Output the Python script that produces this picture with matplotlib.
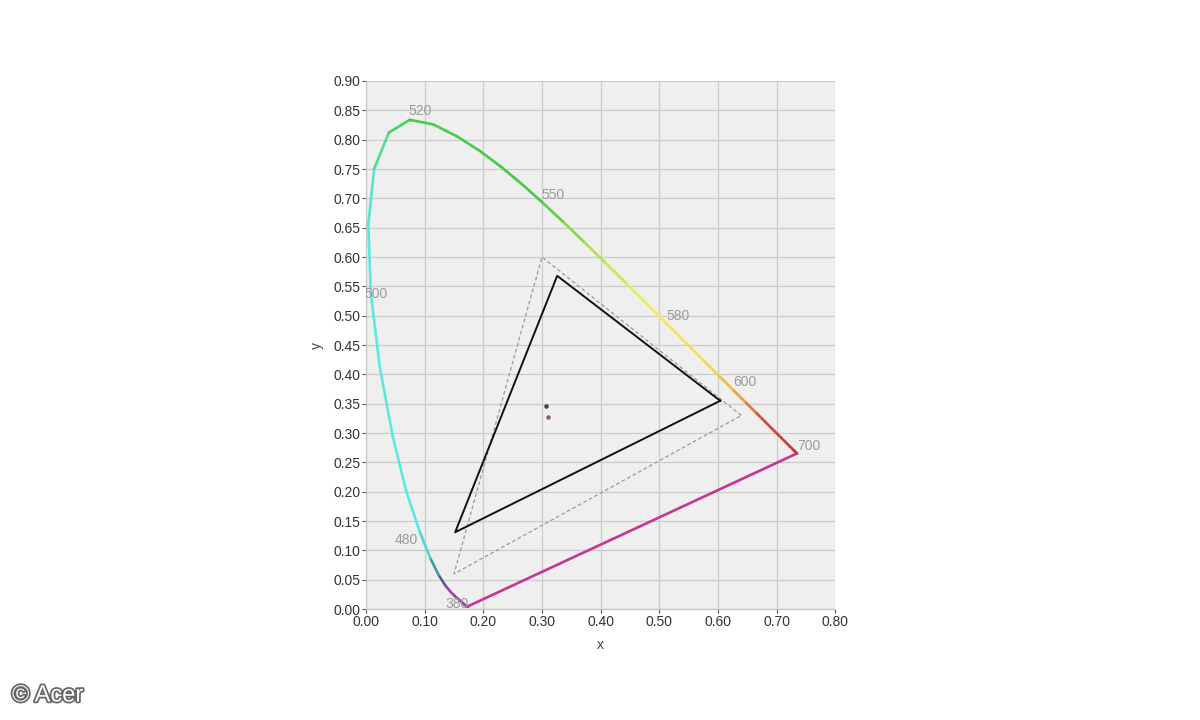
import numpy as np
import matplotlib
matplotlib.use("Agg")
import matplotlib.pyplot as plt
import matplotlib.patheffects as pe
from matplotlib.collections import LineCollection
from matplotlib.colors import LinearSegmentedColormap

plt.rcParams['font.family'] = ['Liberation Sans', 'DejaVu Sans']

# CIE 1931 spectral locus, 5 nm steps
wavelengths = [380, 385, 390, 395, 400, 405, 410, 415, 420, 425, 430, 435, 440, 445,
               450, 455, 460, 465, 470, 475, 480, 485, 490, 495, 500, 505, 510, 515,
               520, 525, 530, 535, 540, 545, 550, 555, 560, 565, 570, 575, 580, 585,
               590, 595, 600, 605, 610, 615, 620, 625, 630, 635, 640, 645, 650, 655,
               660, 665, 670, 675, 680, 685, 690, 695, 700]
locus_x = [0.1741, 0.1740, 0.1738, 0.1736, 0.1733, 0.1730, 0.1726, 0.1721, 0.1714, 0.1703,
           0.1689, 0.1669, 0.1644, 0.1611, 0.1566, 0.1510, 0.1440, 0.1355, 0.1241, 0.1096,
           0.0913, 0.0687, 0.0454, 0.0235, 0.0082, 0.0039, 0.0139, 0.0389, 0.0743, 0.1142,
           0.1547, 0.1929, 0.2296, 0.2658, 0.3016, 0.3373, 0.3731, 0.4087, 0.4441, 0.4788,
           0.5125, 0.5448, 0.5752, 0.6029, 0.6270, 0.6482, 0.6658, 0.6801, 0.6915, 0.7006,
           0.7079, 0.7140, 0.7190, 0.7230, 0.7260, 0.7283, 0.7300, 0.7311, 0.7320, 0.7327,
           0.7334, 0.7340, 0.7344, 0.7346, 0.7347]
locus_y = [0.0050, 0.0050, 0.0049, 0.0049, 0.0048, 0.0048, 0.0048, 0.0048, 0.0051, 0.0058,
           0.0069, 0.0086, 0.0109, 0.0138, 0.0177, 0.0227, 0.0297, 0.0399, 0.0578, 0.0868,
           0.1327, 0.2007, 0.2950, 0.4127, 0.5384, 0.6548, 0.7502, 0.8120, 0.8338, 0.8262,
           0.8059, 0.7816, 0.7543, 0.7243, 0.6923, 0.6589, 0.6245, 0.5896, 0.5547, 0.5202,
           0.4866, 0.4544, 0.4242, 0.3965, 0.3725, 0.3514, 0.3340, 0.3197, 0.3083, 0.2993,
           0.2920, 0.2859, 0.2809, 0.2770, 0.2740, 0.2717, 0.2700, 0.2689, 0.2680, 0.2673,
           0.2666, 0.2660, 0.2656, 0.2654, 0.2653]

label_nm = ["520", "550", "580", "600", "700", "500", "480", "380"]
label_x = [0.072, 0.299, 0.512, 0.626, 0.735, -0.003, 0.049, 0.135]
label_y = [0.849, 0.706, 0.499, 0.387, 0.278, 0.537, 0.118, 0.009]

# measured gamut and sRGB reference
gamut_x = [0.604, 0.326, 0.152]
gamut_y = [0.355, 0.568, 0.131]
srgb_x = [0.64, 0.30, 0.15]
srgb_y = [0.33, 0.60, 0.06]

white_x = [0.307, 0.310]
white_y = [0.346, 0.328]

fig = plt.figure(figsize=(12, 7.2), dpi=100)
ax = fig.add_axes([0.305, 0.154, 0.391, 0.7335])
ax.set_facecolor('#efefef')

# colour along the locus by wavelength
anchors = [(380, '#a83ca8'), (462, '#a040a8'), (470, '#3f6a80'), (476, '#4cc8c8'),
           (481, '#5ce8e0'), (506, '#5ce8e0'), (513, '#50dc90'), (520, '#44d048'),
           (550, '#44c840'), (562, '#a8e048'), (575, '#ecf060'), (592, '#f0e050'),
           (602, '#f0a840'), (615, '#d04838'), (700, '#c03030')]
cmap = LinearSegmentedColormap.from_list(
    'spec', [((w - 380) / 320.0, c) for w, c in anchors])

pts = np.column_stack([locus_x, locus_y])
segs = np.stack([pts[:-1], pts[1:]], axis=1)
mid_wl = (np.array(wavelengths[:-1]) + np.array(wavelengths[1:])) / 2.0
lc = LineCollection(segs, colors=cmap((mid_wl - 380) / 320.0), linewidth=1.9,
                    capstyle='round', zorder=3)
ax.add_collection(lc)

# line of purples
ax.plot([locus_x[-1], locus_x[0]], [locus_y[-1], locus_y[0]], color='#c4368f',
        linewidth=1.9, zorder=3)

ax.plot(srgb_x + srgb_x[:1], srgb_y + srgb_y[:1], color='#999999', linewidth=0.9,
        linestyle=(0, (3, 2)), zorder=3)
ax.plot(gamut_x + gamut_x[:1], gamut_y + gamut_y[:1], color='#111111', linewidth=1.4,
        zorder=4)

ax.scatter(white_x[:1], white_y[:1], s=5, color='#444444', zorder=5)
ax.scatter(white_x[1:], white_y[1:], s=5, color='#886060', zorder=5)

for t, lx, ly in zip(label_nm, label_x, label_y):
    ax.text(lx, ly, t, fontsize=10, color='#9a9a9a', ha='left', va='center', zorder=6)

ax.set_xlim(0, 0.8)
ax.set_ylim(0, 0.9)
ax.set_xticks(np.arange(0, 0.81, 0.1))
ax.set_yticks(np.arange(0, 0.91, 0.05))
ax.set_xticklabels(['%.2f' % v for v in np.arange(0, 0.81, 0.1)])
ax.set_yticklabels(['%.2f' % v for v in np.arange(0, 0.91, 0.05)])
ax.tick_params(labelsize=10, colors='#555555', length=3, width=0.8, pad=1)
ax.tick_params(axis='both', labelcolor='#333333')
ax.grid(True, color='#cccccc', linewidth=0.9)
ax.set_axisbelow(True)
for side in ['top', 'right']:
    ax.spines[side].set_visible(False)
for side in ['left', 'bottom']:
    ax.spines[side].set_color('#c4c4c4')
    ax.spines[side].set_linewidth(0.8)

ax.set_xlabel('x', fontsize=10, color='#444444', labelpad=7)
ax.set_ylabel('y', fontsize=10, color='#444444', labelpad=7)

fig.text(0.01, 0.034, '\u00a9 Acer', fontsize=17, color='white', ha='left', va='center',
         path_effects=[pe.withStroke(linewidth=2.5, foreground='#666666')])

fig.savefig('out.png', dpi=100)
